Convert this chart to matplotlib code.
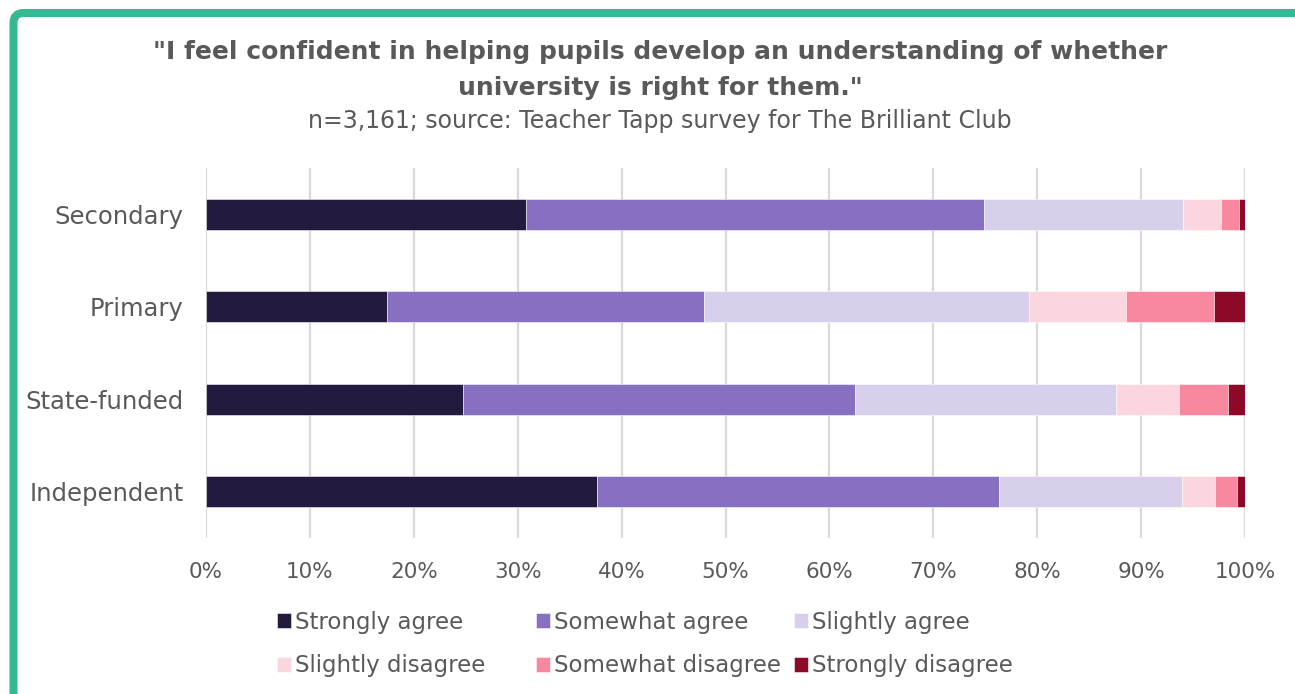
import numpy as np
import matplotlib.pyplot as plt
from matplotlib.patches import FancyBboxPatch
from matplotlib.transforms import IdentityTransform

plt.rcParams['font.family'] = ['DejaVu Sans']

# school types, top to bottom
categories = ["Secondary", "Primary", "State-funded", "Independent"]
responses = ["Strongly agree", "Somewhat agree", "Slightly agree",
             "Slightly disagree", "Somewhat disagree", "Strongly disagree"]
colors = ["#231A3E", "#8770C2", "#D8CFEC", "#FBD6DE", "#F888A0", "#8C0A28"]

# percentages per response (same order as categories)
strongly_agree = [30.8, 17.4, 24.7, 37.6]
somewhat_agree = [44.1, 30.5, 37.8, 38.7]
slightly_agree = [19.1, 31.3, 25.1, 17.6]
slightly_disagree = [3.7, 9.3, 6.0, 3.2]
somewhat_disagree = [1.7, 8.5, 4.8, 2.1]
strongly_disagree = [0.6, 3.0, 1.6, 0.8]

series = [strongly_agree, somewhat_agree, slightly_agree,
          slightly_disagree, somewhat_disagree, strongly_disagree]

grey = "#595959"

fig = plt.figure(figsize=(12.95, 6.94), dpi=100)
ax = fig.add_axes([206 / 1295, 1 - 538 / 694, (1245 - 206) / 1295, (538 - 168) / 694])

y = np.arange(len(categories))
left = np.zeros(len(categories))
handles = []
for vals, name, col in zip(series, responses, colors):
    vals = np.array(vals)
    b = ax.barh(y, vals, left=left, height=0.33, color=col, label=name,
                edgecolor=(1, 1, 1, 0.6), linewidth=0.6, zorder=3)
    handles.append(b)
    left += vals

ax.set_xlim(0, 100)
ax.set_ylim(3.5, -0.5)
ax.set_xticks(np.arange(0, 101, 10))
ax.set_xticklabels([f"{v}%" for v in range(0, 101, 10)])
ax.set_yticks(y)
ax.set_yticklabels(categories)
ax.tick_params(axis="both", length=0, colors=grey)
ax.tick_params(axis="x", pad=17, labelsize=15.5)
ax.tick_params(axis="y", pad=16, labelsize=17.5)
ax.grid(axis="x", color="#D9D9D9", linewidth=1.6, zorder=0)
for s in ax.spines.values():
    s.set_visible(False)

# legend: three fixed-width columns, two rows each
col_x = [277, 536, 794]
for c, x0 in enumerate(col_x):
    idx = [c, c + 3]
    leg = fig.legend([handles[i] for i in idx], [responses[i] for i in idx],
                     loc="center left", bbox_to_anchor=(x0 / 1295, 1 - 644 / 694),
                     frameon=False, fontsize=16.5, labelcolor=grey,
                     handlelength=0.6, handleheight=0.6, handletextpad=0.2,
                     labelspacing=0.9, borderpad=0, borderaxespad=0)

fig.text(660 / 1295, 1 - 52 / 694,
         "\"I feel confident in helping pupils develop an understanding of whether",
         ha="center", va="center", fontsize=18, fontweight="bold", color=grey)
fig.text(660 / 1295, 1 - 88 / 694, "university is right for them.\"",
         ha="center", va="center", fontsize=18, fontweight="bold", color=grey)
fig.text(660 / 1295, 1 - 121 / 694,
         "n=3,161; source: Teacher Tapp survey for The Brilliant Club",
         ha="center", va="center", fontsize=17, color=grey)

# green frame, running off the right and bottom edges
frame = FancyBboxPatch((13.5, -60), 1400, 694 - 13 + 60,
                       boxstyle="round,pad=0,rounding_size=10",
                       transform=IdentityTransform(), facecolor="none",
                       edgecolor="#35B994", linewidth=5.8, clip_on=False)
fig.add_artist(frame)

fig.savefig("out.png", dpi=100)
